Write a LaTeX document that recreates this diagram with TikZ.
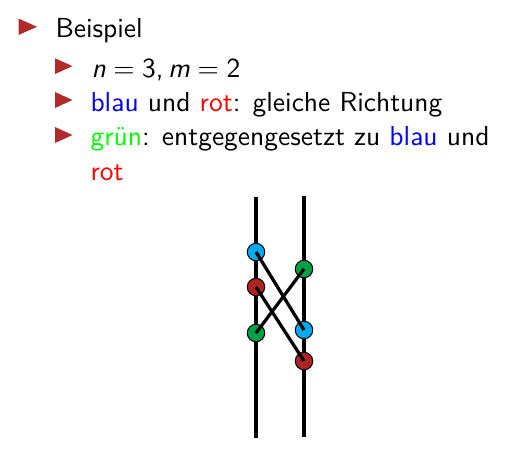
\documentclass[tikz,border=0pt]{standalone}
\usepackage{fontspec}
\setsansfont{Latin Modern Sans}
\renewcommand{\familydefault}{\sfdefault}
\definecolor{tri}{RGB}{178,42,42}
\definecolor{cblue}{RGB}{0,170,240}
\definecolor{cred}{RGB}{175,35,35}
\definecolor{cgreen}{RGB}{0,160,70}
\definecolor{tblue}{RGB}{0,0,255}
\definecolor{tred}{RGB}{255,0,0}
\definecolor{tgreen}{RGB}{0,255,0}
\begin{document}
\begin{tikzpicture}[x=0.4pt,y=-0.4pt,
  txt/.style={anchor=base west,inner sep=0pt,font=\sffamily\fontsize{11}{13}\selectfont},
  strand/.style={line width=1.6pt},
  link/.style={line width=1.3pt},
  dot/.style={circle,draw=black,line width=0.4pt,minimum size=7pt,inner sep=0pt}]
\useasboundingbox (0,0) rectangle (518,468);
% bullets
\fill[tri] (18.5,18.5) -- (18.5,35) -- (37,26.75) -- cycle;
\fill[tri] (55,58.3) -- (55,74) -- (72.5,66.15) -- cycle;
\fill[tri] (55,92) -- (55,108) -- (72.5,100) -- cycle;
\fill[tri] (55,127) -- (55,143) -- (72.5,135) -- cycle;
% texts
\node[txt] (t1) at (55,37) {Beispiel};
\node[txt] (t2) at (91,77) {\textit{n}$\;=\;$3,\,\textit{m}$\;=\;$2};
\node[txt] (t3) at (90,111) {\textcolor{tblue}{blau} und \textcolor{tred}{rot}: gleiche Richtung};
\node[txt] (t4) at (90,145) {\textcolor{tgreen}{grün}: entgegengesetzt zu \textcolor{tblue}{blau} und};
\node[txt] (t5) at (90,180) {\textcolor{tred}{rot}};
% strands
\coordinate (lt) at (256,197);
\coordinate (lb) at (256,438);
\coordinate (rt) at (304,196);
\coordinate (rb) at (304,437);
\draw[strand] (lt) -- (lb);
\draw[strand] (rt) -- (rb);
% dots
\coordinate (bl) at (256,252);
\coordinate (rl) at (256,287);
\coordinate (gl) at (256,333);
\coordinate (gr) at (304,269);
\coordinate (br) at (304,330);
\coordinate (rr) at (304,361);
\node[dot,fill=cblue] (nbl) at (bl) {};
\node[dot,fill=cred] (nrl) at (rl) {};
\node[dot,fill=cgreen] (ngl) at (gl) {};
\node[dot,fill=cgreen] (ngr) at (gr) {};
\node[dot,fill=cblue] (nbr) at (br) {};
\node[dot,fill=cred] (nrr) at (rr) {};
\draw[link] (nbl.center) -- (nbr.center);
\draw[link] (nrl.center) -- (nrr.center);
\draw[link] (ngl.center) -- (ngr.center);
\end{tikzpicture}
\end{document}
